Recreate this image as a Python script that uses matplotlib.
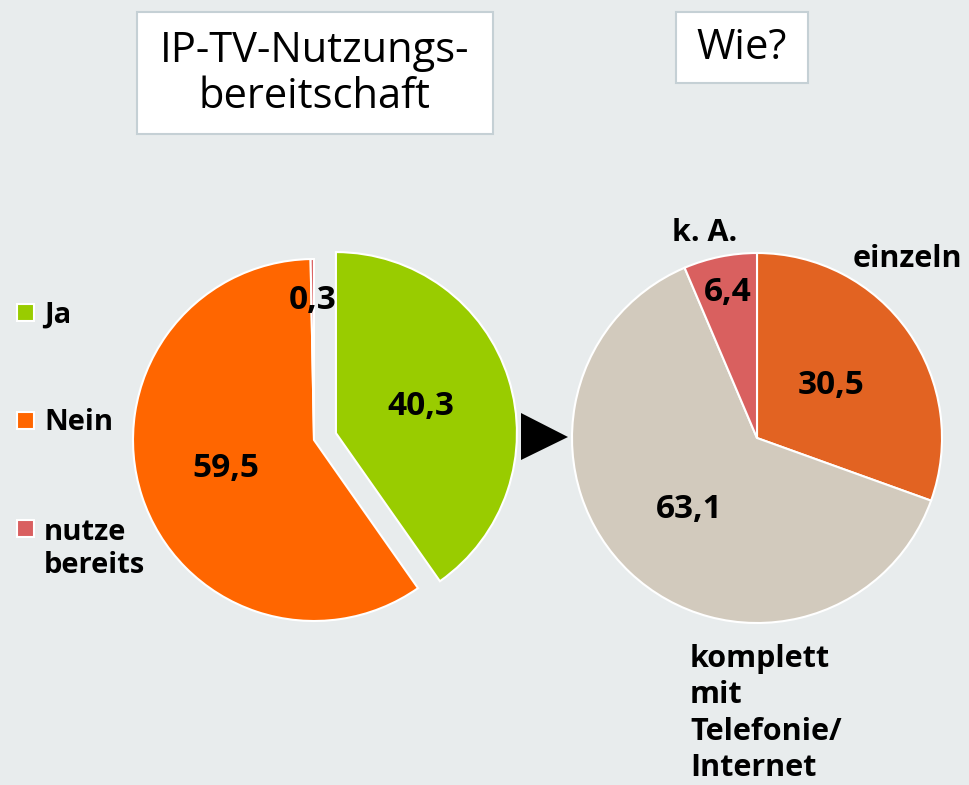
import matplotlib.pyplot as plt
import numpy as np
from matplotlib.patches import Rectangle, Polygon

# Daten: IP-TV-Nutzungsbereitschaft
left_labels = ["Ja", "Nein", "nutze\nbereits"]
left_values = [40.3, 59.5, 0.3]
left_colors = ["#99cc00", "#ff6600", "#d95f60"]

# Daten: Wie?
right_labels = ["einzeln", "komplett\nmit\nTelefonie/\nInternet", "k. A."]
right_values = [30.5, 63.1, 6.4]
right_colors = ["#e26322", "#d2cabd", "#d9605f"]

W, H = 970, 785
BG = "#e8eced"
BOLD = dict(family=["Open Sans", "DejaVu Sans"], weight="bold", color="black")


def Y(y):
    # Pixelzeile (von oben) -> Datenkoordinate (von unten)
    return H - y


def fmt(v):
    return f"{v:.1f}".replace(".", ",")


fig = plt.figure(figsize=(W / 100, H / 100), dpi=100, facecolor=BG)
ax = fig.add_axes([0, 0, 1, 1])
ax.set_facecolor(BG)

# linke Torte, "Ja" herausgezogen
wl, _ = ax.pie(left_values, colors=left_colors, startangle=90, counterclock=False,
               explode=[23, 0, 0], radius=181, center=(314, Y(440)),
               wedgeprops=dict(edgecolor="white", linewidth=1.5))

# rechte Torte
wr, _ = ax.pie(right_values, colors=right_colors, startangle=90, counterclock=False,
               radius=185, center=(757, Y(438)),
               wedgeprops=dict(edgecolor="white", linewidth=1.5))


def value_labels(wedges, values, dists):
    for w, v, d in zip(wedges, values, dists):
        th = np.deg2rad((w.theta1 + w.theta2) / 2)
        cx, cy = w.center
        ax.text(cx + d * w.r * np.cos(th), cy + d * w.r * np.sin(th), fmt(v),
                ha="center", va="center", fontsize=24, **BOLD)


value_labels(wl, left_values, [0.49, 0.51, 0.77])
value_labels(wr, right_values, [0.49, 0.53, 0.80])

# Kategorienbeschriftung rechts (va="baseline" richtet an der letzten Zeile aus)
ax.text(907, Y(259), right_labels[0], ha="center", va="center", fontsize=22, **BOLD)
ax.text(705, Y(233), right_labels[2], ha="center", va="center", fontsize=22, **BOLD)
ax.text(690, Y(776), right_labels[1], ha="left", va="baseline", fontsize=22,
        linespacing=1.28, **BOLD)

# Legende links
for i, (lab, col) in enumerate(zip(left_labels, left_colors)):
    yc = 313 + i * 107.5
    ax.add_patch(Rectangle((17, Y(yc + 8.5)), 17, 17, facecolor=col,
                           edgecolor="white", linewidth=1.5))
    nl = lab.count("\n")
    ax.text(44, Y(yc + 10 + nl * 35), lab, ha="left", va="baseline", fontsize=21,
            linespacing=1.2, **BOLD)

# Pfeil zwischen den Torten
ax.add_patch(Polygon([(521, Y(413)), (521, Y(460)), (568, Y(437))],
                     closed=True, facecolor="black", edgecolor="none"))

# Titelkästen
ax.add_patch(Rectangle((137, Y(134)), 356, 122, facecolor="white",
                       edgecolor="#c5d0d5", linewidth=1.5))
ax.text(315, Y(74), "IP-TV-Nutzungs-\nbereitschaft", ha="center", va="center",
        fontsize=30, family=["Open Sans", "DejaVu Sans"], linespacing=1.15)
ax.add_patch(Rectangle((676, Y(83)), 132, 71, facecolor="white",
                       edgecolor="#c5d0d5", linewidth=1.5))
ax.text(742, Y(48), "Wie?", ha="center", va="center",
        fontsize=30, family=["Open Sans", "DejaVu Sans"])

ax.set_xlim(0, W)
ax.set_ylim(0, H)
ax.set_aspect("equal")
ax.axis("off")

fig.savefig("out.png", dpi=100, facecolor=BG)
